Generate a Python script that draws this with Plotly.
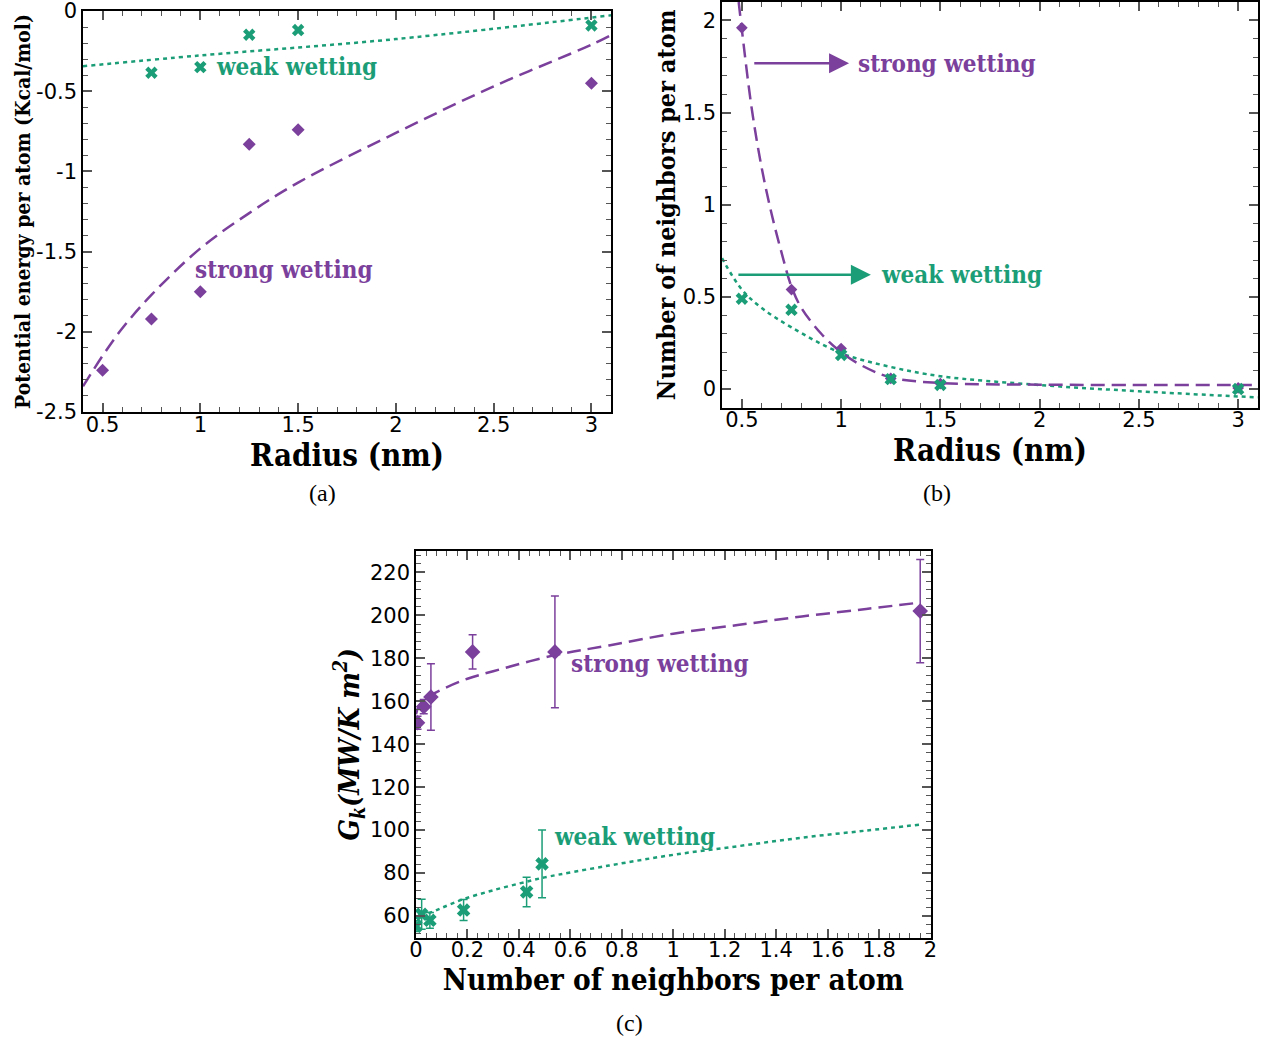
import plotly.graph_objects as go

PURPLE = "#7b3f9c"
GREEN = "#1b9e77"
TICK_FONT = dict(family="DejaVu Sans", size=21, color="black")
TITLE_FAMILY = "DejaVu Serif Condensed, DejaVu Serif, serif"

# ---- measured data -------------------------------------------------------
radius_strong = [0.5, 0.75, 1.0, 1.25, 1.5, 3.0]
radius_weak_energy = [0.75, 1.0, 1.25, 1.5, 3.0]
radius_weak = [0.5, 0.75, 1.0, 1.25, 1.5, 3.0]

energy_strong = [-2.24, -1.92, -1.75, -0.83, -0.74, -0.45]
energy_weak = [-0.385, -0.35, -0.148, -0.119, -0.09]

neighbors_strong = [1.96, 0.54, 0.22, 0.058, 0.03, 0.006]
neighbors_weak = [0.49, 0.43, 0.185, 0.054, 0.022, 0.0]

gk_strong = [202.0, 183.0, 183.0, 162.0, 157.5, 150.0]
gk_strong_err = [24.0, 26.0, 8.0, 15.5, 3.3, 3.0]
gk_weak = [84.3, 71.2, 62.8, 58.0, 60.8, 55.3]
gk_weak_err = [15.8, 6.9, 4.9, 3.7, 7.0, 2.5]

# ---- fitted trend curves (sampled) ---------------------------------------
fit_energy_strong_x = [0.4, 0.5, 0.6, 0.75, 1.0, 1.25, 1.5, 2.0, 2.5, 3.0, 3.1]
fit_energy_strong_y = [-2.34, -2.15, -1.98, -1.77, -1.48, -1.26, -1.07, -0.76, -0.47, -0.21, -0.15]
fit_energy_weak_x = [0.4, 1.0, 2.0, 3.1]
fit_energy_weak_y = [-0.344, -0.277, -0.175, -0.027]

fit_nb_strong_x = [0.484, 0.5, 0.55, 0.6, 0.65, 0.7, 0.75, 0.8, 0.9, 1.0, 1.1, 1.25, 1.5, 2.0, 3.1]
fit_nb_strong_y = [2.1, 1.95, 1.52, 1.2, 0.95, 0.74, 0.555, 0.44, 0.30, 0.20, 0.13, 0.063, 0.033, 0.024, 0.022]
fit_nb_weak_x = [0.4, 0.5, 0.6, 0.75, 1.0, 1.25, 1.5, 2.0, 2.5, 3.1]
fit_nb_weak_y = [0.71, 0.54, 0.44, 0.335, 0.195, 0.12, 0.07, 0.022, -0.012, -0.045]

fit_gk_strong_x = [0.0, 0.01, 0.03, 0.06, 0.1, 0.2, 0.3, 0.54, 0.75, 1.0, 1.25, 1.5, 1.75, 1.96]
fit_gk_strong_y = [154.0, 157.5, 160.5, 163.0, 165.5, 170.5, 174.0, 181.5, 186.0, 191.5, 195.5, 199.5, 203.0, 206.0]
fit_gk_weak_x = [0.02, 0.03, 0.06, 0.1, 0.18, 0.3, 0.43, 0.5, 0.75, 1.0, 1.25, 1.5, 1.75, 1.96]
fit_gk_weak_y = [60.0, 60.8, 61.8, 63.8, 67.7, 72.0, 76.0, 78.0, 83.5, 88.5, 92.5, 96.5, 99.8, 102.6]

fig = go.Figure()

DASH = "14px,7px"
DOT = "4px,4px"

def curve(x, y, color, dash, xa, ya):
    fig.add_trace(go.Scatter(x=x, y=y, mode="lines", xaxis=xa, yaxis=ya,
                             line=dict(color=color, width=2.5, dash=dash, shape="spline"),
                             showlegend=False, hoverinfo="skip"))

def points(x, y, color, symbol, xa, ya, size=10, err=None):
    kw = {}
    if err is not None:
        kw["error_y"] = dict(type="data", array=err, color=color, thickness=1.5, width=4)
    fig.add_trace(go.Scatter(x=x, y=y, mode="markers", xaxis=xa, yaxis=ya,
                             marker=dict(color=color, symbol=symbol, size=size,
                                         line=dict(width=0)),
                             showlegend=False, **kw))

# (a) potential energy vs radius
curve(fit_energy_weak_x, fit_energy_weak_y, GREEN, DOT, "x", "y")
curve(fit_energy_strong_x, fit_energy_strong_y, PURPLE, DASH, "x", "y")
points(radius_weak_energy, energy_weak, GREEN, "x", "x", "y", size=11)
points(radius_strong, energy_strong, PURPLE, "diamond", "x", "y", size=10)

# (b) neighbours vs radius
curve(fit_nb_weak_x, fit_nb_weak_y, GREEN, DOT, "x2", "y2")
curve(fit_nb_strong_x, fit_nb_strong_y, PURPLE, DASH, "x2", "y2")
points(radius_strong, neighbors_strong, PURPLE, "diamond", "x2", "y2", size=9)
points(radius_weak, neighbors_weak, GREEN, "x", "x2", "y2", size=11)

# (c) conductance vs neighbours
curve(fit_gk_strong_x, fit_gk_strong_y, PURPLE, DASH, "x3", "y3")
curve(fit_gk_weak_x, fit_gk_weak_y, GREEN, DOT, "x3", "y3")
points(neighbors_strong, gk_strong, PURPLE, "diamond", "x3", "y3", size=12, err=gk_strong_err)
points(neighbors_weak, gk_weak, GREEN, "x", "x3", "y3", size=12, err=gk_weak_err)


def axis(domain, rng, dtick, minor, title, title_size, standoff, anchor, label_shift=0):
    return dict(
        domain=domain, range=rng, anchor=anchor, dtick=dtick, tick0=0,
        automargin=False, ticklabeloverflow="allow", ticklabelstandoff=label_shift,
        showline=True, linecolor="black", linewidth=1.5, mirror="allticks",
        ticks="inside", ticklen=9, tickwidth=1.5, tickcolor="#555",
        minor=dict(dtick=minor, ticks="inside", ticklen=5, tickwidth=1.2, tickcolor="#555"),
        showgrid=False, zeroline=False, tickfont=TICK_FONT,
        title=dict(text=title, font=dict(family=TITLE_FAMILY, size=title_size, color="black",
                                          weight="bold"), standoff=standoff),
    )

W, H = 1269, 1043

def px(v):
    return v / W

def py(v):
    return 1 - v / H

layout = dict(
    width=W, height=H, margin=dict(l=0, r=0, t=0, b=0, autoexpand=False),
    paper_bgcolor="white", plot_bgcolor="white", showlegend=False,
)
layout["xaxis"] = axis([px(83), px(611)], [0.4, 3.1], 0.5, 0.1, "Radius (nm)", 31, 0, "y", -7)
layout["yaxis"] = axis([py(412), py(11)], [-2.5, 0], 0.5, 0.1,
                       "Potential energy per atom (Kcal/mol)", 21, 0, "x")
layout["xaxis2"] = axis([px(722), px(1258)], [0.4, 3.1], 0.5, 0.1, "Radius (nm)", 31, 0, "y2", -7)
layout["yaxis2"] = axis([py(407.5), py(2)], [-0.1, 2.1], 0.5, 0.1,
                        "Number of neighbors per atom", 25, 0, "x2")
layout["xaxis3"] = axis([px(416), px(930.5)], [0, 2], 0.2, 0.04,
                        "Number of neighbors per atom", 29.5, 0, "y3", -7)
layout["yaxis3"] = axis([py(937.5), py(551)], [50, 230], 20, 4,
                        "<i>G<sub>k</sub>(MW/K m<sup>2</sup>)</i>", 28, 2, "x3")
layout["yaxis"]["tickvals"] = [0, -0.5, -1, -1.5, -2, -2.5]
layout["yaxis"]["ticktext"] = ["0", "-0.5", "-1", "-1.5", "-2", "-2.5"]

ANN_FONT = TITLE_FAMILY
annotations = [
    # (a)
    dict(x=1.07, y=-0.345, xref="x", yref="y", text="weak wetting", showarrow=False,
         xanchor="left", font=dict(family=ANN_FONT, size=24, color=GREEN, weight="bold")),
    dict(x=0.965, y=-1.61, xref="x", yref="y", text="strong wetting", showarrow=False,
         xanchor="left", font=dict(family=ANN_FONT, size=24, color=PURPLE, weight="bold")),
    # (b) arrows and labels
    dict(x=1.04, y=1.768, ax=0.555, ay=1.768, xref="x2", yref="y2", axref="x2", ayref="y2",
         text="", showarrow=True, arrowhead=2, arrowsize=1.6, arrowwidth=2.5, arrowcolor=PURPLE),
    dict(x=1.075, y=1.768, xref="x2", yref="y2", text="strong wetting", showarrow=False,
         xanchor="left", font=dict(family=ANN_FONT, size=24, color=PURPLE, weight="bold")),
    dict(x=1.15, y=0.62, ax=0.475, ay=0.62, xref="x2", yref="y2", axref="x2", ayref="y2",
         text="", showarrow=True, arrowhead=2, arrowsize=1.6, arrowwidth=2.5, arrowcolor=GREEN),
    dict(x=1.19, y=0.62, xref="x2", yref="y2", text="weak wetting", showarrow=False,
         xanchor="left", font=dict(family=ANN_FONT, size=24, color=GREEN, weight="bold")),
    # (c)
    dict(x=0.595, y=177.8, xref="x3", yref="y3", text="strong wetting", showarrow=False,
         xanchor="left", font=dict(family=ANN_FONT, size=24, color=PURPLE, weight="bold")),
    dict(x=0.528, y=97.0, xref="x3", yref="y3", text="weak wetting", showarrow=False,
         xanchor="left", font=dict(family=ANN_FONT, size=24, color=GREEN, weight="bold")),
    # panel captions
    dict(x=px(307), y=py(493), xref="paper", yref="paper", text="(a)", showarrow=False,
         yanchor="middle", font=dict(family="Liberation Serif, serif", size=24, color="black")),
    dict(x=px(953), y=py(493), xref="paper", yref="paper", text="(b)", showarrow=False,
         yanchor="middle", font=dict(family="Liberation Serif, serif", size=24, color="black")),
    dict(x=px(629), y=py(1023), xref="paper", yref="paper", text="(c)", showarrow=False,
         yanchor="middle", font=dict(family="Liberation Serif, serif", size=24, color="black")),
]
layout["annotations"] = annotations

fig.update_layout(**layout)
fig.write_html("out.html")
